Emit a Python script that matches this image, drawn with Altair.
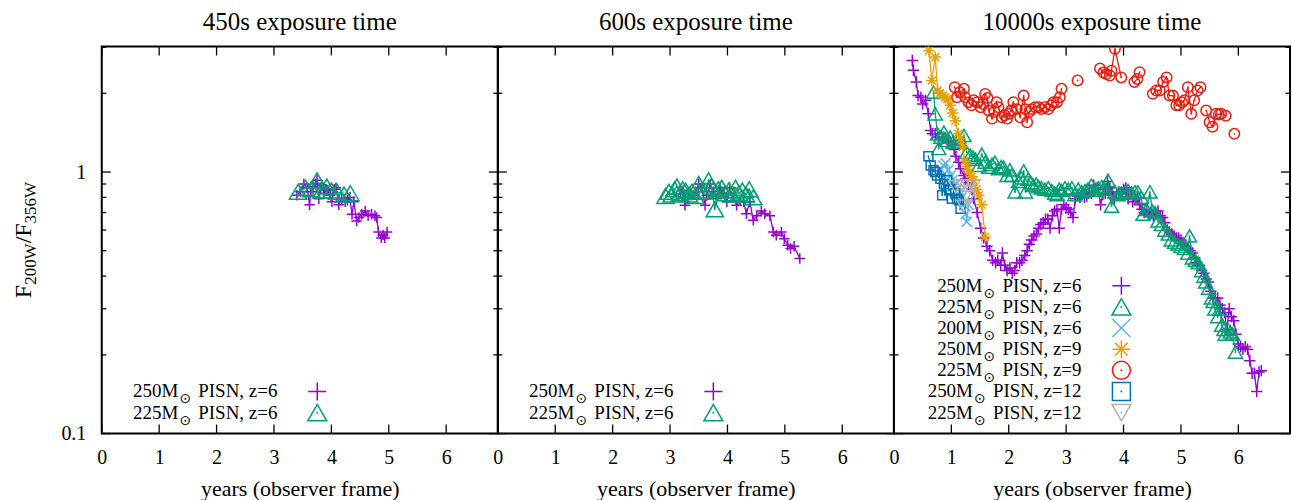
import altair as alt
import pandas as pd

SERIF = "Liberation Serif"
PURPLE, GREEN, SKY, ORANGE = "#9400d3", "#009e73", "#56b4e9", "#e69f00"
RED, BLUE, GREY = "#e51e10", "#0072b2", "#b0b0b0"

# axes
X_DOMAIN = [0, 6.9]
Y_DOMAIN = [0.1, 3.02]
X_TICKS = [0, 1, 2, 3, 4, 5, 6]
Y_MAJOR = [0.1, 1]
Y_MINOR = [0.2, 0.3, 0.4, 0.5, 0.6, 0.7, 0.8, 0.9, 2, 3]

# ---- 450 s exposure ----
T450_M250 = [3.40, 3.46, 3.52, 3.58, 3.62, 3.64, 3.68, 3.72, 3.75, 3.78, 3.81, 3.84, 3.87,
             3.90, 3.94, 3.98, 4.01, 4.05, 4.08, 4.13, 4.18, 4.24, 4.28, 4.32, 4.36, 4.39,
             4.44, 4.48, 4.53, 4.59, 4.64, 4.70, 4.76, 4.79, 4.82, 4.87, 4.90, 4.93, 4.97]
V450_M250 = [0.815, 0.84, 0.90, 0.87, 0.75, 0.84, 0.88, 0.90, 0.93, 0.79, 0.87, 0.89, 0.83,
             0.86, 0.85, 0.815, 0.77, 0.86, 0.87, 0.75, 0.79, 0.77, 0.78, 0.80, 0.69, 0.77,
             0.65, 0.67, 0.69, 0.71, 0.68, 0.69, 0.68, 0.67, 0.59, 0.56, 0.575, 0.56, 0.59]
T450_M225 = [3.42, 3.55, 3.65, 3.75, 3.83, 3.92, 4.00, 4.10, 4.22, 4.33]
V450_M225 = [0.84, 0.87, 0.86, 0.93, 0.85, 0.88, 0.85, 0.84, 0.82, 0.83]

# ---- 600 s exposure ----
T600_M250 = [3.18, 3.23, 3.26, 3.32, 3.38, 3.44, 3.50, 3.55, 3.61, 3.64, 3.70, 3.76, 3.81,
             3.87, 3.93, 3.99, 4.04, 4.10, 4.16, 4.22, 4.28, 4.33, 4.39, 4.45, 4.51, 4.59,
             4.65, 4.74, 4.80, 4.85, 4.94, 4.99, 5.05, 5.10, 5.16, 5.26]
V600_M250 = [0.826, 0.85, 0.746, 0.80, 0.815, 0.84, 0.90, 0.87, 0.746, 0.815, 0.90, 0.84, 0.79,
             0.87, 0.83, 0.77, 0.87, 0.80, 0.746, 0.78, 0.77, 0.693, 0.77, 0.654, 0.68, 0.71,
             0.693, 0.68, 0.59, 0.573, 0.59, 0.556, 0.525, 0.51, 0.52, 0.467]
T600_M225 = [2.92, 2.98, 3.03, 3.08, 3.12, 3.17, 3.22, 3.27, 3.33, 3.38, 3.44, 3.50, 3.55,
             3.61, 3.67, 3.72, 3.78, 3.84, 3.90, 3.96, 4.02, 4.08, 4.14, 4.20, 4.26, 4.32,
             4.38, 4.45]
V600_M225 = [0.81, 0.84, 0.82, 0.86, 0.88, 0.83, 0.86, 0.85, 0.82, 0.84, 0.81, 0.90, 0.84,
             0.85, 0.93, 0.88, 0.72, 0.86, 0.87, 0.83, 0.85, 0.82, 0.87, 0.83, 0.85, 0.82,
             0.86, 0.80]

# ---- 10000 s exposure ----
T10K_M250_Z6 = [0.32, 0.34, 0.39, 0.42, 0.47, 0.50, 0.55, 0.60, 0.64, 0.67, 0.72, 0.78, 0.84,
                0.90, 0.95, 1.00, 1.05, 1.08, 1.13, 1.16, 1.22, 1.25, 1.30, 1.36, 1.39, 1.45,
                1.51, 1.56, 1.62, 1.67, 1.72, 1.77, 1.81, 1.86, 1.89, 1.93, 1.97, 2.02, 2.06,
                2.10, 2.14, 2.19, 2.23, 2.28, 2.32, 2.36, 2.40, 2.44, 2.48, 2.52, 2.56, 2.60,
                2.64, 2.68, 2.72, 2.76, 2.80, 2.84, 2.88, 2.92, 2.96, 3.00, 3.04, 3.08, 3.12,
                3.16, 3.20, 3.24, 3.28, 3.32, 3.36, 3.40, 3.44, 3.48, 3.52, 3.56, 3.60, 3.64,
                3.68, 3.72, 3.76, 3.80, 3.84, 3.88, 3.92, 3.96, 4.00, 4.04, 4.08, 4.12, 4.16,
                4.20, 4.24, 4.28, 4.32, 4.36, 4.40, 4.44, 4.48, 4.52, 4.56, 4.60, 4.64, 4.68,
                4.72, 4.76, 4.80, 4.84, 4.88, 4.92, 4.96, 5.00, 5.04, 5.08, 5.12, 5.16, 5.20,
                5.24, 5.28, 5.32, 5.36, 5.40, 5.44, 5.48, 5.52, 5.56, 5.60, 5.64, 5.68, 5.72,
                5.76, 5.80, 5.84, 5.88, 5.92, 5.96, 6.00, 6.04, 6.08, 6.12, 6.16, 6.20, 6.24,
                6.28, 6.32, 6.36, 6.40]
V10K_M250_Z6 = [2.67, 2.45, 2.21, 1.96, 1.93, 1.82, 1.88, 1.67, 1.44, 1.40, 1.40, 1.36, 1.34,
                1.35, 1.31, 1.28, 1.22, 1.15, 1.09, 1.03, 0.97, 0.94, 0.91, 0.86, 0.79, 0.70,
                0.61, 0.56, 0.52, 0.50, 0.46, 0.45, 0.46, 0.44, 0.49, 0.44, 0.42, 0.43, 0.41,
                0.42, 0.45, 0.45, 0.46, 0.48, 0.50, 0.53, 0.55, 0.57, 0.58, 0.61, 0.63, 0.64,
                0.66, 0.66, 0.61, 0.68, 0.71, 0.72, 0.61, 0.72, 0.75, 0.73, 0.72, 0.70, 0.67,
                0.79, 0.81, 0.80, 0.82, 0.80, 0.81, 0.84, 0.83, 0.89, 0.87, 0.86, 0.75, 0.82,
                0.83, 0.92, 0.87, 0.84, 0.79, 0.83, 0.84, 0.83, 0.86, 0.87, 0.79, 0.82, 0.77,
                0.79, 0.80, 0.75, 0.72, 0.70, 0.71, 0.69, 0.70, 0.68, 0.69, 0.71, 0.68, 0.67,
                0.64, 0.60, 0.59, 0.58, 0.57, 0.56, 0.56, 0.55, 0.53, 0.52, 0.51, 0.50, 0.49,
                0.47, 0.45, 0.44, 0.42, 0.41, 0.39, 0.38, 0.35, 0.33, 0.33, 0.33, 0.31, 0.30,
                0.29, 0.25, 0.30, 0.28, 0.27, 0.24, 0.22, 0.215, 0.21, 0.215, 0.21, 0.19, 0.17,
                0.17, 0.145, 0.172, 0.174]
T10K_M225_Z6 = [0.69, 0.72, 0.76, 0.78, 0.82, 0.87, 0.93, 0.98, 1.03, 1.07, 1.12, 1.16, 1.22,
                1.27, 1.33, 1.38, 1.42, 1.48, 1.53, 1.59, 1.65, 1.71, 1.76, 1.82, 1.87, 1.91,
                1.97, 2.02, 2.05, 2.11, 2.17, 2.22, 2.26, 2.29, 2.34, 2.39, 2.43, 2.48, 2.52,
                2.57, 2.63, 2.69, 2.75, 2.80, 2.84, 2.88, 2.92, 2.98, 3.04, 3.10, 3.15, 3.21,
                3.27, 3.33, 3.38, 3.44, 3.50, 3.56, 3.62, 3.67, 3.73, 3.79, 3.85, 3.91, 3.96,
                4.02, 4.08, 4.14, 4.20, 4.25, 4.31, 4.34, 4.40, 4.46, 4.50, 4.55, 4.60, 4.66,
                4.72, 4.78, 4.83, 4.89, 4.95, 5.00, 5.06, 5.12, 5.15, 5.20, 5.25, 5.30, 5.36,
                5.40, 5.43, 5.48, 5.53, 5.56, 5.59, 5.64, 5.68, 5.71, 5.75, 5.77, 5.82, 5.86,
                5.90, 5.95]
V10K_M225_Z6 = [2.02, 1.67, 1.40, 1.23, 1.36, 1.42, 1.32, 1.36, 1.30, 1.30, 1.33, 1.30, 1.38,
                1.19, 1.16, 1.14, 1.12, 1.06, 1.17, 1.09, 1.045, 1.07, 1.09, 1.03, 1.05, 1.045,
                0.97, 1.02, 0.97, 0.84, 0.92, 0.95, 1.01, 0.84, 0.94, 0.91, 0.89, 0.90, 0.88,
                0.87, 0.86, 0.87, 0.85, 0.83, 0.82, 0.86, 0.85, 0.87, 0.86, 0.87, 0.82, 0.86,
                0.84, 0.85, 0.86, 0.89, 0.85, 0.87, 0.88, 0.86, 0.93, 0.74, 0.84, 0.82, 0.83,
                0.84, 0.85, 0.83, 0.84, 0.84, 0.80, 0.69, 0.72, 0.84, 0.71, 0.70, 0.65, 0.63,
                0.60, 0.58, 0.55, 0.54, 0.53, 0.52, 0.51, 0.49, 0.57, 0.47, 0.46, 0.45, 0.42,
                0.40, 0.38, 0.36, 0.33, 0.32, 0.30, 0.28, 0.30, 0.26, 0.25, 0.24, 0.25, 0.245,
                0.24, 0.205]
T10K_M200_Z6 = [0.82, 0.86, 0.90, 0.95, 0.99, 1.02, 1.06, 1.10, 1.14, 1.18, 1.22, 1.25, 1.27, 1.30]
V10K_M200_Z6 = [1.02, 1.06, 1.08, 1.02, 0.97, 0.93, 0.89, 0.86, 0.84, 0.80, 0.75, 0.69, 0.645, 0.75]
T10K_M250_Z9 = [0.55, 0.61, 0.66, 0.72, 0.76, 0.80, 0.85, 0.89, 0.93, 0.98, 1.02, 1.07, 1.12,
                1.16, 1.20, 1.23, 1.27, 1.31, 1.35, 1.39, 1.44, 1.48, 1.53, 1.59]
V10K_M250_Z9 = [3.30, 2.91, 2.24, 2.75, 2.05, 2.00, 1.96, 1.93, 1.90, 1.80, 1.68, 1.57, 1.40,
                1.34, 1.25, 1.10, 1.05, 1.00, 0.96, 0.93, 0.86, 0.815, 0.75, 0.565]
T10K_M225_Z9 = [1.06, 1.10, 1.15, 1.22, 1.24, 1.30, 1.35, 1.39, 1.45, 1.51, 1.55, 1.59, 1.63,
                1.65, 1.71, 1.75, 1.79, 1.82, 1.88, 1.93, 1.97, 2.00, 2.04, 2.08, 2.14, 2.20,
                2.26, 2.29, 2.32, 2.36, 2.40, 2.46, 2.52, 2.57, 2.63, 2.69, 2.74, 2.78, 2.84,
                2.89, 2.92,
                3.20,
                3.59, 3.65, 3.70, 3.76, 3.79, 3.85, 3.96,
                4.19, 4.24, 4.28,
                4.51, 4.57, 4.63, 4.69, 4.75, 4.80, 4.86, 4.92, 4.97, 5.02, 5.06, 5.12, 5.18,
                5.23, 5.29, 5.34,
                5.44, 5.50, 5.55, 5.61, 5.66, 5.70, 5.78,
                5.93]
V10K_M225_Z9 = [2.11, 1.93, 2.02, 2.08, 1.93, 1.85, 1.80, 1.88, 1.85, 1.77, 1.82, 1.99, 1.92,
                1.72, 1.60, 1.70, 1.85, 1.77, 1.62, 1.65, 1.60, 1.67, 1.72, 1.85, 1.74, 1.62,
                1.96, 1.74, 1.55, 1.70, 1.74, 1.77, 1.77, 1.74, 1.77, 1.74, 1.80, 1.85, 1.85,
                1.93, 2.08,
                2.24,
                2.49, 2.40, 2.37, 2.34, 2.44, 2.96, 2.30,
                2.21, 2.27, 2.41,
                1.99, 2.05, 2.05, 2.21, 2.30, 1.96, 1.96, 1.80, 1.80, 1.85, 1.88, 2.11, 1.67,
                1.88, 2.05, 2.11,
                1.72, 1.55, 1.49, 1.67, 1.66, 1.67, 1.64,
                1.40]
S10K_M225_Z9 = [0] * 41 + [1] + [2] * 7 + [3] * 3 + [4] * 16 + [5] * 7 + [6]
T10K_M250_Z12 = [0.60, 0.64, 0.69, 0.72, 0.75, 0.81, 0.84, 0.87, 0.93, 0.96, 0.98, 1.01, 1.07,
                 1.10, 1.13, 1.16]
V10K_M250_Z12 = [1.15, 1.06, 1.015, 1.00, 0.97, 0.943, 0.815, 0.90, 0.93, 0.85, 0.86, 0.79,
                 0.83, 0.79, 0.78, 0.724]
T10K_M225_Z12 = [1.07, 1.20, 1.30, 1.38, 1.30, 1.22]
V10K_M225_Z12 = [0.88, 0.885, 0.885, 0.885, 0.80, 0.74]

# ---- layout ----
W, H = 397, 388
TICK_MAJ, TICK_MIN = 9, 4.5
LEG_FS = 19
ROW_BOTTOM, ROW_STEP = 367, 21.2

PLUS = "M-1,0L1,0M0,-1L0,1"
CROSS = "M-1,-1L1,1M-1,1L1,-1"
STAR = "M-1,0L1,0M0,-1L0,1M-0.7,-0.7L0.7,0.7M-0.7,0.7L0.7,-0.7"

ADV = {"P": 0.556, "I": 0.333, "S": 0.556, "N": 0.722, ",": 0.25, " ": 0.25, "z": 0.444,
       "=": 0.564, "F": 0.556, "W": 0.944, "/": 0.278, "M": 0.889}


def text_w(s, fs):
    return fs * sum(ADV.get(c, 0.5) for c in s)


ONE = pd.DataFrame({"k": [0]})


def xscale():
    return alt.Scale(domain=X_DOMAIN, nice=False, zero=False)


def yscale():
    return alt.Scale(type="log", domain=Y_DOMAIN, nice=False)


X_AXIS = alt.Axis(values=X_TICKS, format="d", ticks=False, domain=False, grid=False,
                  labelPadding=14, labelFlush=False, labelOverlap=False,
                  title="years (observer frame)", titlePadding=11)
Y_AXIS = alt.Axis(values=Y_MAJOR, format="~g", ticks=False, domain=False, grid=False,
                  labelPadding=16, title=None)


def enc_x():
    return alt.X("t:Q", scale=xscale(), axis=X_AXIS)


def enc_y(show_y):
    return alt.Y("v:Q", scale=yscale(), axis=Y_AXIS if show_y else None)


def tick_layers(show_y):
    xt = alt.Chart(pd.DataFrame({"t": X_TICKS}))
    ymaj = alt.Chart(pd.DataFrame({"v": Y_MAJOR}))
    ymin = alt.Chart(pd.DataFrame({"v": Y_MINOR}))
    rule = dict(color="black", strokeWidth=1.3)
    return [
        xt.mark_rule(**rule).encode(x=enc_x(), y=alt.value(H), y2=alt.value(H - TICK_MAJ)),
        xt.mark_rule(**rule).encode(x=enc_x(), y=alt.value(0), y2=alt.value(TICK_MAJ)),
        ymaj.mark_rule(**rule).encode(y=enc_y(show_y), x=alt.value(0), x2=alt.value(TICK_MAJ)),
        ymaj.mark_rule(**rule).encode(y=enc_y(show_y), x=alt.value(W - TICK_MAJ), x2=alt.value(W)),
        ymin.mark_rule(**rule).encode(y=enc_y(show_y), x=alt.value(0), x2=alt.value(TICK_MIN)),
        ymin.mark_rule(**rule).encode(y=enc_y(show_y), x=alt.value(W - TICK_MIN), x2=alt.value(W)),
    ]


def series_layers(t, v, color, shape, size, dot, show_y, seg=None):
    df = pd.DataFrame({"t": t, "v": v, "i": list(range(len(t))),
                       "seg": seg if seg is not None else [0] * len(t)})
    base = alt.Chart(df).encode(x=enc_x(), y=enc_y(show_y))
    out = [
        base.mark_line(color=color, strokeWidth=1.3, clip=True).encode(
            detail="seg:N", order=alt.Order("i:Q")),
        base.mark_point(shape=shape, size=size, filled=False, color=color,
                        strokeWidth=1.5, opacity=1, clip=True),
    ]
    if dot:
        out.append(base.mark_point(shape="circle", size=3, filled=True, color=color,
                                   opacity=1, clip=True))
    return out


def legend_layers(entries, end_x, sym_x):
    n = len(entries)
    out = []
    one = alt.Chart(ONE)
    for k, (mass, z, color, shape, size, dot) in enumerate(entries):
        yc = ROW_BOTTOM - ROW_STEP * (n - 1 - k)
        suffix = f"PISN, z={z}"
        sun_x = end_x - text_w(suffix, LEG_FS) - 13
        txt = dict(font=SERIF, fontSize=LEG_FS, color="black", baseline="middle")
        out.append(one.mark_text(text=suffix, x=end_x, y=yc, align="right", **txt))
        out.append(one.mark_text(text="\u2299", x=sun_x, y=yc + 8, align="center",
                                 baseline="middle", font="DejaVu Sans", fontSize=14,
                                 color="black"))
        out.append(one.mark_text(text=f"{mass}M", x=sun_x - 7, y=yc, align="right", **txt))
        out.append(one.mark_point(shape=shape, size=size, x=sym_x, y=yc, filled=False,
                                  color=color, strokeWidth=1.5, opacity=1))
        if dot:
            out.append(one.mark_point(shape="circle", size=4, x=sym_x, y=yc, filled=True,
                                      color=color, opacity=1))
    return out


def ytitle_layers():
    pieces = [("F", 24, 0), ("200W", 17, 5), ("/F", 24, 0), ("356W", 17, 5)]
    total = sum(text_w(s, fs) for s, fs, _ in pieces)
    cur = H / 2 + total / 2
    out = []
    one = alt.Chart(ONE)
    for s, fs, shift in pieces:
        out.append(one.mark_text(text=s, x=-71 + shift, y=cur, angle=270, align="left",
                                 baseline="alphabetic", font=SERIF, fontSize=fs,
                                 color="black"))
        cur -= text_w(s, fs)
    return out


def panel(title, series, legend, end_x, sym_x, show_y):
    layers = tick_layers(show_y)
    for s in series:
        layers += series_layers(*s, show_y=show_y) if len(s) == 6 else \
            series_layers(*s[:6], show_y=show_y, seg=s[6])
    layers += legend_layers(legend, end_x, sym_x)
    if show_y:
        layers += ytitle_layers()
    # panel heading
    layers.append(alt.Chart(ONE).mark_text(text=title, x=W / 2, y=-17, align="center",
                                           baseline="alphabetic", font=SERIF, fontSize=25,
                                           color="black"))
    return alt.layer(*layers).properties(width=W, height=H)


p1 = panel(
    "450s exposure time",
    [(T450_M250, V450_M250, PURPLE, PLUS, 110, False),
     (T450_M225, V450_M225, GREEN, "triangle-up", 300, True)],
    [("250", "6", PURPLE, PLUS, 324, False), ("225", "6", GREEN, "triangle-up", 361, True)],
    176, 216, True)

p2 = panel(
    "600s exposure time",
    [(T600_M250, V600_M250, PURPLE, PLUS, 110, False),
     (T600_M225, V600_M225, GREEN, "triangle-up", 300, True)],
    [("250", "6", PURPLE, PLUS, 324, False), ("225", "6", GREEN, "triangle-up", 361, True)],
    176, 216, False)

p3 = panel(
    "10000s exposure time",
    [(T10K_M250_Z6, V10K_M250_Z6, PURPLE, PLUS, 130, False),
     (T10K_M225_Z6, V10K_M225_Z6, GREEN, "triangle-up", 200, True),
     (T10K_M200_Z6, V10K_M200_Z6, SKY, CROSS, 100, False),
     (T10K_M250_Z9, V10K_M250_Z9, ORANGE, STAR, 130, False),
     (T10K_M225_Z9, V10K_M225_Z9, RED, "circle", 110, True, S10K_M225_Z9),
     (T10K_M250_Z12, V10K_M250_Z12, BLUE, "square", 81, True),
     (T10K_M225_Z12, V10K_M225_Z12, GREY, "triangle-down", 200, True)],
    [("250", "6", PURPLE, PLUS, 324, False),
     ("225", "6", GREEN, "triangle-up", 361, True),
     ("200", "6", SKY, CROSS, 324, False),
     ("250", "9", ORANGE, STAR, 324, False),
     ("225", "9", RED, "circle", 324, True),
     ("250", "12", BLUE, "square", 324, True),
     ("225", "12", GREY, "triangle-down", 361, True)],
    188, 228, False)

chart = (
    alt.hconcat(p1, p2, p3, spacing=0, bounds="flush")
    .properties(padding={"left": 11, "top": 8, "right": 0, "bottom": 8}, background="white")
    .configure_view(stroke="black", strokeWidth=2)
    .configure_axis(labelFont=SERIF, labelFontSize=20, labelColor="black",
                    titleFont=SERIF, titleFontSize=22, titleFontWeight="normal",
                    titleColor="black")
)

chart.save("out.html", embed_options={"renderer": "svg", "actions": False})
